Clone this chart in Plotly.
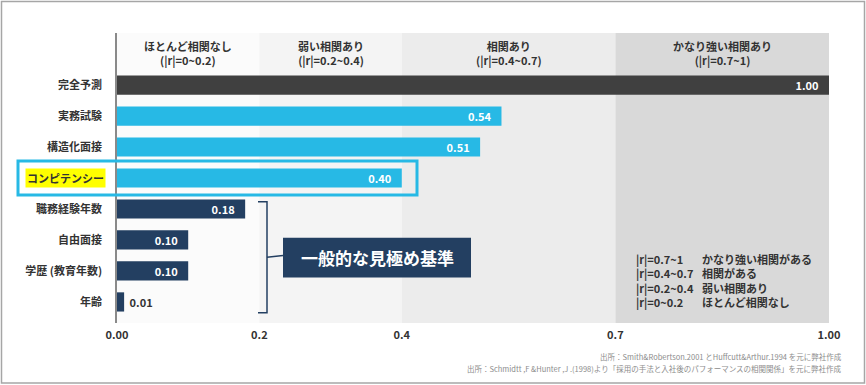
import plotly.graph_objects as go

categories = ["完全予測", "実務試験", "構造化面接", "コンピテンシー", "職務経験年数", "自由面接", "学歴 (教育年数)", "年齢"]
values = [1.00, 0.54, 0.51, 0.40, 0.18, 0.10, 0.10, 0.01]
bar_colors = ["#404040", "#27b9e5", "#27b9e5", "#27b9e5", "#233f61", "#233f61", "#233f61", "#233f61"]

band_edges = [0.0, 0.2, 0.4, 0.7, 1.0]
band_colors = ["#fbfbfb", "#f4f4f4", "#ececec", "#d9d9d9"]
band_titles = ["ほとんど相関なし<br>(|r|=0~0.2)", "弱い相関あり<br>(|r|=0.2~0.4)",
               "相関あり<br>(|r|=0.4~0.7)", "かなり強い相関あり<br>(|r|=0.7~1)"]

tick_vals = [0.0, 0.2, 0.4, 0.7, 1.0]
tick_text = ["0.00", "0.2", "0.4", "0.7", "1.00"]

legend_ranges = ["|r|=0.7~1", "|r|=0.4~0.7", "|r|=0.2~0.4", "|r|=0~0.2"]
legend_desc = ["かなり強い相関がある", "相関がある", "弱い相関あり", "ほとんど相関なし"]

sources = ["出所：Smith&Robertson.2001 とHuffcutt&Arthur.1994 を元に弊社作成",
           "出所：Schmidtt ,F &Hunter ,J .(1998)より「採用の手法と入社後のパフォーマンスの相関関係」を元に弊社作成"]

FONT = "Noto Sans CJK JP"
W, H = 866, 385
L, R, T, B = 117, 37, 33, 62
pw, ph = W - L - R, H - T - B

def px_x(p):
    return (p - L) / pw

def px_y(p):
    return (H - B - p) / ph

ypos = list(range(len(categories)))
highlight_idx = categories.index("コンピテンシー")

texts = []
positions = []
tcolors = []
for i, v in enumerate(values):
    if v < 0.05:
        texts.append("\u00a0" + f"{v:.2f}")
        positions.append("outside")
        tcolors.append("#333333")
    else:
        texts.append(f"{v:.2f}" + "\u00a0\u00a0\u00a0")
        positions.append("inside")
        tcolors.append("#ffffff")

fig = go.Figure()
fig.add_trace(go.Bar(
    x=values, y=ypos, orientation="h",
    marker=dict(color=bar_colors, line=dict(width=0)),
    width=0.62,
    text=texts, textposition=positions, insidetextanchor="end", constraintext="none",
    textfont=dict(family=FONT, size=11, color=tcolors, weight="bold"),
    cliponaxis=False, hoverinfo="skip",
))

shapes = []
for i in range(4):
    shapes.append(dict(type="rect", xref="x", yref="paper", x0=band_edges[i], x1=band_edges[i + 1],
                       y0=0, y1=1, fillcolor=band_colors[i], line=dict(width=0), layer="below"))

# outer frame
shapes.append(dict(type="rect", xref="paper", yref="paper", x0=px_x(1.5), x1=px_x(864.5),
                   y0=px_y(383), y1=px_y(1.5), line=dict(color="#a6a6a6", width=1.5), fillcolor="rgba(0,0,0,0)"))

# highlight box around コンピテンシー
shapes.append(dict(type="rect", xref="paper", yref="y", x0=px_x(18), x1=px_x(417),
                   y0=highlight_idx - 0.55, y1=highlight_idx + 0.55,
                   line=dict(color="#27b9e5", width=3), fillcolor="rgba(0,0,0,0)"))

# bracket
bx0, bx1 = px_x(258), px_x(267)
by0, by1 = 3.77, 7.35
bc = "#233f61"
shapes.append(dict(type="path", xref="paper", yref="y",
                   path=f"M {bx0} {by0} L {bx1} {by0} L {bx1} {by1} L {bx0} {by1}",
                   line=dict(color=bc, width=1.5)))
shapes.append(dict(type="line", xref="paper", yref="y", x0=bx1, x1=px_x(283), y0=5.56, y1=5.5,
                   line=dict(color=bc, width=1.5)))
shapes.append(dict(type="rect", xref="paper", yref="y", x0=px_x(283), x1=px_x(471),
                   y0=4.93, y1=6.21, fillcolor=bc, line=dict(width=0)))

annotations = []
for i in range(4):
    annotations.append(dict(x=(band_edges[i] + band_edges[i + 1]) / 2, y=-1.03, xref="x", yref="y",
                            text=band_titles[i], showarrow=False, yanchor="middle",
                            font=dict(family=FONT, size=11, color="#333333", weight="bold")))

annotations.append(dict(x=(px_x(283) + px_x(471)) / 2, y=5.57, xref="paper", yref="y",
                        text="一般的な見極め基準", showarrow=False, yanchor="middle",
                        font=dict(family=FONT, size=17, color="#ffffff", weight="bold")))

annotations.append(dict(x=px_x(106), y=highlight_idx, xref="paper", yref="y", xanchor="right",
                        yanchor="middle",
                        text=categories[highlight_idx], showarrow=False, bgcolor="#ffff00", borderpad=1,
                        font=dict(family=FONT, size=11, color="#333333", weight="bold")))

leg_center = (258 + 302) / 2
annotations.append(dict(x=px_x(634), y=px_y(leg_center), xref="paper", yref="paper", xanchor="left",
                        yanchor="middle", align="left", text="<br>".join(legend_ranges), showarrow=False,
                        font=dict(family=FONT, size=11, color="#333333", weight="bold")))
annotations.append(dict(x=px_x(700), y=px_y(leg_center), xref="paper", yref="paper", xanchor="left",
                        yanchor="middle", align="left", text="<br>".join(legend_desc), showarrow=False,
                        font=dict(family=FONT, size=11, color="#333333", weight="bold")))

src_y = [356, 368]
for i in range(2):
    annotations.append(dict(x=px_x(844), y=px_y(src_y[i]), xref="paper", yref="paper", xanchor="right",
                            yanchor="middle", text=sources[i], showarrow=False,
                            font=dict(family=FONT, size=7.5, color="#8c8c8c")))

ticktext_y = [c if i != highlight_idx else "" for i, c in enumerate(categories)]

fig.update_layout(
    width=W, height=H,
    margin=dict(l=L, r=R, t=T, b=B, pad=0),
    paper_bgcolor="#ffffff", plot_bgcolor="#ffffff",
    showlegend=False, bargap=0.38,
    shapes=shapes, annotations=annotations,
    font=dict(family=FONT),
    xaxis=dict(range=[0, 1], tickvals=tick_vals, ticktext=tick_text, showgrid=False, zeroline=False,
               showline=False, ticks="", ticklabelstandoff=4,
               tickfont=dict(family=FONT, size=11, color="#333333", weight="bold"), fixedrange=True),
    yaxis=dict(range=[7.68, -1.68], tickvals=ypos, ticktext=ticktext_y, showgrid=False, zeroline=False,
               showline=True, linecolor="#8a8a8a", linewidth=1.5, ticks="", ticklabelstandoff=11,
               tickfont=dict(family=FONT, size=11, color="#333333", weight="bold"), fixedrange=True),
)

fig.write_html("out.html", config={"displayModeBar": False},
               post_script="document.body.style.margin='0';document.body.style.padding='0';")
